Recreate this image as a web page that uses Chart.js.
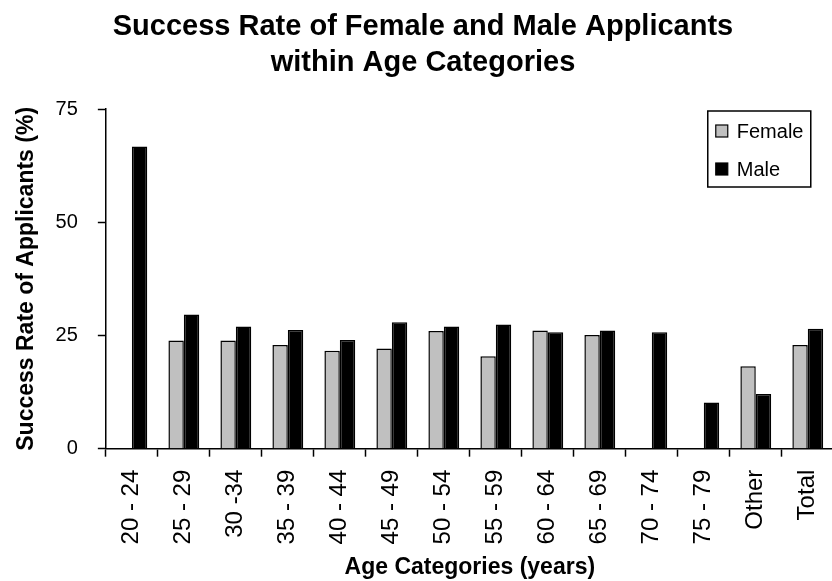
<!DOCTYPE html>
<html>
<head>
<meta charset="utf-8">
<script src="https://cdn.jsdelivr.net/npm/chart.js@4.4.1/dist/chart.umd.min.js"></script>
<style>
  html, body { margin: 0; padding: 0; background: #fff; overflow: hidden; }
  #wrap { position: relative; width: 850px; height: 581px; }
</style>
</head>
<body>
<div id="wrap"><canvas id="chart"></canvas></div>
<script>
const categories = ["20 - 24", "25 - 29", "30 -34", "35 - 39", "40 - 44", "45 - 49", "50 - 54",
  "55 - 59", "60 - 64", "65 - 69", "70 - 74", "75 - 79", "Other", "Total"]
const female = [null, 23.9, 23.9, 22.9, 21.6, 22.1, 26.0, 20.4, 26.1, 25.1, null, null, 18.2, 22.9]
const male = [66.7, 29.6, 27.0, 26.2, 24.0, 27.9, 27.0, 27.4, 25.7, 26.1, 25.7, 10.2, 12.1, 26.5]
const yTicks = [0, 25, 50, 75]

const FONT = "'Liberation Sans', Arial, sans-serif"
const COLOR_FEMALE = "#c0c0c0"
const COLOR_MALE = "#000000"

// boxed legend drawn inside the plot, top right
const boxLegend = {
  id: "boxLegend",
  afterDraw(chart) {
    const { ctx, chartArea } = chart
    const w = 103, h = 76
    const x = chartArea.right - 23 - w
    const y = chartArea.top + 2
    ctx.save()
    ctx.fillStyle = "#fff"
    ctx.fillRect(x, y, w, h)
    ctx.strokeStyle = "#000"
    ctx.lineWidth = 1.5
    ctx.strokeRect(x, y, w, h)
    ctx.font = `20px ${FONT}`
    ctx.textBaseline = "middle"
    chart.data.datasets.forEach((ds, i) => {
      const cy = y + 20 + i * 38
      ctx.fillStyle = ds.backgroundColor
      ctx.fillRect(x + 8, cy - 6, 12, 12)
      ctx.lineWidth = 1.2
      ctx.strokeRect(x + 8, cy - 6, 12, 12)
      ctx.fillStyle = "#000"
      ctx.fillText(ds.label, x + 29, cy + 1)
    })
    ctx.restore()
  },
}

new Chart(document.getElementById("chart"), {
  type: "bar",
  data: {
    labels: categories,
    datasets: [
      {
        label: "Female",
        data: female,
        backgroundColor: COLOR_FEMALE,
        borderColor: "#000",
        borderWidth: 1.5,
        categoryPercentage: 0.593,
        barPercentage: 1.0,
      },
      {
        label: "Male",
        data: male,
        backgroundColor: COLOR_MALE,
        borderColor: "#000",
        borderWidth: 1.5,
        categoryPercentage: 0.593,
        barPercentage: 1.0,
      },
    ],
  },
  options: {
    responsive: true,
    maintainAspectRatio: false,
    animation: false,
    layout: { padding: { left: 8, right: 12, top: 0, bottom: 0 } },
    scales: {
      x: {
        grid: {
          display: true,
          offset: true,
          drawOnChartArea: false,
          drawTicks: true,
          tickLength: 8,
          tickColor: "#000",
          tickWidth: 1.5,
        },
        border: { color: "#000", width: 1.5 },
        ticks: {
          color: "#000",
          font: { family: FONT, size: 24 },
          minRotation: 90,
          maxRotation: 90,
          autoSkip: false,
          padding: 13,
        },
        title: {
          display: true,
          text: "Age Categories (years)",
          color: "#000",
          font: { family: FONT, size: 23, weight: "bold" },
          // chart.js reserves tick padding twice, take it back here
          padding: { top: -4, bottom: 0 },
        },
      },
      y: {
        min: 0,
        max: 75,
        afterBuildTicks: (axis) => {
          axis.ticks = yTicks.map((v) => ({ value: v }))
        },
        grid: {
          display: true,
          drawOnChartArea: false,
          drawTicks: true,
          tickLength: 8,
          tickColor: "#000",
          tickWidth: 1.5,
        },
        border: { color: "#000", width: 1.5 },
        ticks: {
          color: "#000",
          font: { family: FONT, size: 20 },
          padding: 20,
        },
        title: {
          display: true,
          text: "Success Rate of Applicants (%)",
          color: "#000",
          font: { family: FONT, size: 23, weight: "bold" },
          padding: { top: 5, bottom: -5 },
        },
      },
    },
    plugins: {
      legend: { display: false },
      tooltip: { enabled: false },
      title: {
        display: true,
        text: ["Success Rate of Female and Male Applicants", "within Age Categories"],
        color: "#000",
        font: { family: FONT, size: 29, weight: "bold", lineHeight: 36 / 29 },
        padding: { top: 9, bottom: 28 },
      },
    },
  },
  plugins: [boxLegend],
})
</script>
</body>
</html>
